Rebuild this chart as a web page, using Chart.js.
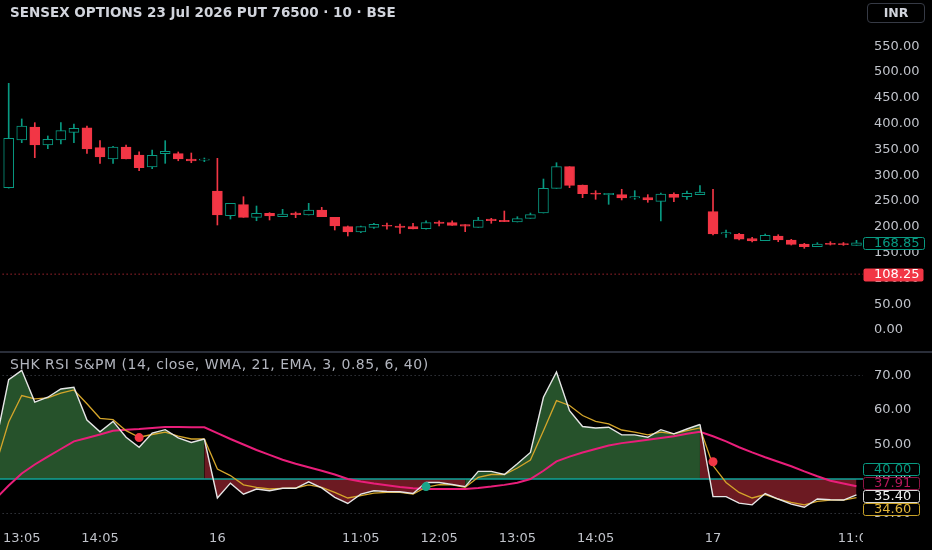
<!DOCTYPE html>
<html>
<head>
<meta charset="utf-8">
<title>SENSEX OPTIONS 23 Jul 2026 PUT 76500</title>
<script src="https://cdn.jsdelivr.net/npm/chart.js@4.4.1/dist/chart.umd.min.js"></script>
<style>
  html, body { margin: 0; padding: 0; background: #000; }
  #wrap { position: relative; width: 932px; height: 550px; overflow: hidden; background: #000;
          font-family: "DejaVu Sans", sans-serif; }
  #price { position: absolute; left: 0; top: 0; }
  #rsi { position: absolute; left: 0; top: 353px; }
  #sep { position: absolute; left: 0; top: 351px; width: 932px; height: 2px; background: #2a2e39; }
  .title { position: absolute; left: 10px; top: 4px; color: #d1d4dc; font-size: 13.5px; font-weight: 600;
           white-space: nowrap; }
  .inr { position: absolute; left: 867px; top: 3px; width: 58px; height: 20px; box-sizing: border-box;
         border: 1px solid #363a45; border-radius: 4px; color: #d1d4dc; font-size: 12.5px; font-weight: 600;
         text-align: center; line-height: 18px; }
  .rsiTitle { position: absolute; left: 10px; top: 356px; color: #b2b5be; font-size: 14px; letter-spacing: 0.5px;
              white-space: nowrap; }
</style>
</head>
<body>
<div id="wrap">
  <canvas id="price" width="932" height="352"></canvas>
  <div id="sep"></div>
  <canvas id="rsi" width="932" height="197"></canvas>
  <div class="title">SENSEX OPTIONS 23 Jul 2026 PUT 76500 · 10 · BSE</div>
  <div class="inr">INR</div>
  <div class="rsiTitle">SHK RSI S&amp;PM (14, close, WMA, 21, EMA, 3, 0.85, 6, 40)</div>
</div>
<script>
const TEAL = '#089981';
const RED = '#f23645';
const AXIS_TXT = '#c0c3ca';
const FONT = '"DejaVu Sans", sans-serif';

// bottom axis labels, placed on bar indices
const xTickBars = [1, 7, 16, 27, 33, 39, 45, 54, 65];
const xTickText = ['13:05', '14:05', '16', '11:05', '12:05', '13:05', '14:05', '17', '11:05'];

const priceTicks = [0, 50, 100, 150, 200, 250, 300, 350, 400, 450, 500, 550];
const rsiTicks = [30, 40, 50, 60, 70];

// 10 minute candles
const opens = [275.8, 368.2, 393.4, 358.5, 368.2, 383.1, 392.0, 353.4, 331.4, 354.7,
  339.1, 315.9, 341.7, 341.7, 331.4, 328.9, 269.4, 221.5, 242.9, 218.4,
  226.1, 219.6, 226.7, 222.9, 232.6, 218.4, 200.2, 189.9, 199.0, 202.9,
  201.6, 200.2, 196.4, 209.3, 208.0, 204.2, 199.0, 215.1, 212.5, 209.3,
  216.4, 226.7, 274.5, 316.5, 281.0, 265.5, 262.3, 262.3, 255.8, 256.4,
  249.4, 263.0, 258.4, 262.3, 229.3, 186.0, 185.4, 177.0, 173.2, 182.2,
  174.4, 166.7, 161.5, 168.0, 167.4, 164.1];
const highs = [478.0, 409.0, 401.8, 376.0, 401.8, 399.2, 395.3, 366.9, 355.9, 358.5,
  345.5, 348.8, 366.9, 345.0, 343.0, 333.3, 332.7, 245.5, 258.4, 240.3,
  227.4, 233.9, 228.7, 245.5, 237.7, 218.4, 201.6, 201.6, 206.8, 207.4,
  205.5, 206.8, 211.8, 211.8, 211.8, 204.2, 218.4, 216.4, 230.6, 219.6,
  226.7, 292.6, 324.2, 316.5, 281.0, 270.0, 264.9, 272.7, 270.0, 262.3,
  265.5, 265.8, 269.4, 279.7, 272.7, 193.8, 187.4, 179.6, 186.0, 184.7,
  175.7, 168.0, 169.2, 171.1, 169.5, 173.8];
const lows = [275.0, 363.0, 334.0, 351.4, 360.5, 363.0, 342.4, 323.0, 323.0, 331.4,
  308.7, 312.6, 323.0, 328.0, 324.2, 326.2, 203.5, 215.1, 218.4, 211.8,
  213.2, 219.6, 217.7, 222.9, 219.6, 193.8, 182.2, 188.6, 197.0, 195.2,
  187.4, 195.7, 195.2, 201.6, 202.9, 190.6, 199.0, 206.8, 210.0, 209.3,
  216.4, 226.7, 274.5, 275.8, 256.4, 253.3, 243.6, 252.0, 253.3, 247.5,
  211.2, 248.6, 253.3, 262.3, 184.1, 179.6, 174.4, 170.5, 173.2, 171.1,
  164.7, 158.3, 161.5, 164.7, 164.0, 164.1];
const closes = [371.5, 395.3, 358.5, 369.5, 386.3, 390.8, 350.8, 335.3, 354.7, 331.4,
  314.5, 338.5, 346.3, 331.4, 327.5, 331.4, 222.9, 245.5, 218.4, 226.1,
  220.9, 224.8, 223.5, 232.6, 219.6, 201.6, 189.9, 200.2, 204.8, 201.0,
  199.0, 195.7, 208.0, 206.8, 202.9, 201.0, 213.2, 211.8, 210.0, 215.7,
  223.5, 274.5, 316.5, 280.4, 264.2, 263.0, 264.9, 255.8, 258.4, 252.0,
  263.6, 257.1, 264.9, 267.4, 186.0, 188.6, 175.8, 172.5, 183.5, 174.4,
  166.1, 161.5, 166.7, 166.1, 165.5, 168.85];

const alertLevel = 108.25;

// indicator pane, series begin one bar before the first visible candle
const rsiFirstBar = -1;
const rsiLine = [50.4, 68.8, 71.5, 62.3, 63.7, 66.1, 66.6, 57.1, 53.7, 56.7, 52.1,
  49.2, 53.3, 54.3, 51.9, 50.6, 51.6, 34.5, 38.8, 35.6, 37.1,
  36.6, 37.3, 37.3, 39.2, 37.4, 34.7, 32.9, 35.6, 36.6, 36.4,
  36.3, 35.8, 39.0, 39.0, 38.4, 37.8, 42.2, 42.2, 41.3, 44.4,
  47.7, 63.7, 71.0, 59.8, 55.2, 54.8, 55.0, 52.8, 52.8, 52.1,
  54.3, 53.1, 54.5, 55.8, 34.9, 34.9, 33.0, 32.5, 35.8, 34.2,
  32.7, 31.8, 34.2, 34.0, 33.9, 35.4];
const rsiSignal = [44.0, 56.5, 64.2, 63.2, 63.5, 64.9, 65.8, 61.8, 57.6, 57.2, 54.0,
  52.1, 52.9, 53.6, 52.4, 51.6, 51.6, 42.9, 41.0, 38.3, 37.6,
  37.1, 37.3, 37.4, 38.3, 37.6, 36.1, 34.5, 35.2, 35.9, 36.1,
  36.1, 35.6, 37.6, 38.4, 38.3, 37.6, 40.5, 41.3, 41.3, 43.2,
  45.5, 54.0, 62.7, 61.3, 58.4, 56.7, 56.0, 54.2, 53.6, 52.8,
  53.6, 53.1, 54.0, 54.8, 43.9, 39.0, 36.1, 34.5, 35.5, 34.2,
  33.2, 32.5, 33.5, 33.9, 33.9, 34.6];
const rsiWma = [34.3, 38.1, 41.6, 44.2, 46.5, 48.7, 50.9, 51.9, 52.9, 54.0, 54.3,
  54.5, 54.8, 55.1, 55.1, 55.0, 55.0, 53.3, 51.6, 50.0, 48.4,
  47.0, 45.6, 44.4, 43.4, 42.4, 41.3, 40.0, 39.3, 38.7, 38.2,
  37.7, 37.3, 37.1, 37.1, 37.1, 37.1, 37.4, 37.8, 38.3, 38.9,
  40.0, 42.4, 45.1, 46.5, 47.7, 48.7, 49.7, 50.4, 50.9, 51.4,
  51.9, 52.4, 53.1, 53.7, 52.4, 50.9, 49.2, 47.7, 46.3, 45.0,
  43.7, 42.2, 40.8, 39.5, 38.7, 37.91];
const rsiMid = 40;
const rsiBands = [70, 30];

const sigBars = [10, 32, 54];
const sigValues = [52.0, 37.8, 45.0];
const sigKinds = ['sell', 'buy', 'sell'];

const bars = opens.map((_, i) => i);
const isUp = bars.map(i => closes[i] >= opens[i]);
const toPts = (arr) => arr.map((v, k) => ({ x: rsiFirstBar + k, y: v }));
const level = (v) => [{ x: -2, y: v }, { x: 68, y: v }];

const xRange = { type: 'linear', min: -0.667, max: 65.5, offset: false };

function drawTag(ctx, x, y, text, st, w, h) {
  ctx.save();
  ctx.beginPath();
  ctx.roundRect(x + 0.5, Math.round(y - h / 2) + 0.5, w, h, 2);
  ctx.fillStyle = st.fill;
  ctx.fill();
  if (st.stroke) {
    ctx.strokeStyle = st.stroke;
    ctx.lineWidth = 1;
    ctx.stroke();
  }
  ctx.fillStyle = st.text;
  ctx.font = '13px ' + FONT;
  ctx.textBaseline = 'middle';
  ctx.fillText(text, x + 11, Math.round(y) + 1);
  ctx.restore();
}

// push overlapping tags apart, keeping each cluster centred on its values
function spreadTags(items, h) {
  items.sort((a, b) => a.y - b.y);
  let groups = items.map(it => ({ items: [it], y: it.y }));
  let merged = true;
  while (merged) {
    merged = false;
    for (let k = 0; k < groups.length - 1; k++) {
      const a = groups[k], b = groups[k + 1];
      if (a.y + a.items.length * h / 2 > b.y - b.items.length * h / 2) {
        const its = a.items.concat(b.items);
        const mean = its.reduce((s, it) => s + it.y, 0) / its.length;
        groups.splice(k, 2, { items: its, y: mean });
        merged = true;
        break;
      }
    }
  }
  groups.forEach(g => g.items.forEach((it, j) => {
    it.ty = g.y + (j - (g.items.length - 1) / 2) * h;
  }));
  return items;
}

const priceTags = {
  id: 'priceTags',
  afterDraw(chart) {
    const ys = chart.scales.y, area = chart.chartArea, ctx = chart.ctx;
    const last = closes[closes.length - 1];
    drawTag(ctx, area.right, ys.getPixelForValue(alertLevel), alertLevel.toFixed(2),
      { fill: RED, text: '#ffffff' }, 60, 13);
    drawTag(ctx, area.right, ys.getPixelForValue(last), last.toFixed(2),
      { fill: '#000000', stroke: TEAL, text: TEAL }, 61, 12);
  }
};

const rsiTags = {
  id: 'rsiTags',
  // time labels stop at the price column, like the last "11:0" in the original
  beforeDraw(chart) {
    const a = chart.chartArea, ctx = chart.ctx;
    ctx.save();
    ctx.beginPath();
    ctx.rect(0, 0, chart.width, a.bottom);
    ctx.rect(0, a.bottom, a.right, chart.height - a.bottom);
    ctx.clip();
  },
  afterDraw(chart) {
    const ys = chart.scales.y, area = chart.chartArea, ctx = chart.ctx;
    ctx.restore();
    const n = rsiLine.length - 1;
    const items = [
      { v: rsiMid, st: { fill: '#000', stroke: TEAL, text: TEAL } },
      { v: rsiWma[n], st: { fill: '#000', stroke: '#8c1444', text: '#b3185a' } },
      { v: rsiLine[n], st: { fill: '#000', stroke: '#d8d8d8', text: '#f0f0f0' } },
      { v: rsiSignal[n], st: { fill: '#000', stroke: '#c9a227', text: '#e0b43a' } }
    ].map(it => ({ ...it, y: ys.getPixelForValue(it.v) }));
    spreadTags(items, 13.3).forEach(it => {
      drawTag(ctx, area.right, it.ty, it.v.toFixed(2), it.st, 56, 12);
    });
  }
};

// fixed axis width, and no extra room reserved for overhanging tick labels
const yAxisCommon = {
  position: 'right',
  grid: { display: false, drawTicks: false },
  border: { display: false },
  afterFit(scale) {
    scale.width = 69;
    scale.paddingTop = 0;
    scale.paddingBottom = 0;
  }
};

new Chart(document.getElementById('price'), {
  type: 'bar',
  data: {
    datasets: [{
      label: 'body',
      data: bars.map(i => ({ x: i, y: [opens[i], closes[i]] })),
      backgroundColor: bars.map(i => isUp[i] ? '#000000' : RED),
      borderColor: bars.map(i => isUp[i] ? TEAL : RED),
      borderWidth: 1,
      borderSkipped: false,
      barThickness: 10,
      grouped: false,
      order: 0
    }, {
      label: 'wick',
      data: bars.map(i => ({ x: i, y: [lows[i], highs[i]] })),
      backgroundColor: bars.map(i => isUp[i] ? TEAL : RED),
      borderWidth: 0,
      barThickness: 1,
      grouped: false,
      order: 1
    }, {
      type: 'line',
      label: 'alert',
      data: level(alertLevel),
      borderColor: RED,
      borderWidth: 1,
      borderDash: [1, 3],
      pointRadius: 0,
      order: 2
    }]
  },
  options: {
    responsive: false,
    animation: false,
    events: [],
    layout: { padding: 0, autoPadding: false },
    plugins: { legend: { display: false }, tooltip: { enabled: false } },
    scales: {
      x: { ...xRange, display: false },
      y: {
        ...yAxisCommon,
        min: -42.6,
        max: 639.5,
        afterBuildTicks(axis) { axis.ticks = priceTicks.map(v => ({ value: v })); },
        ticks: {
          padding: 11,
          color: AXIS_TXT,
          font: { family: FONT, size: 13 },
          callback: v => Number(v).toFixed(2)
        }
      }
    }
  },
  plugins: [priceTags]
});

new Chart(document.getElementById('rsi'), {
  type: 'line',
  data: {
    datasets: [{
      label: 'signals',
      data: sigBars.map((b, k) => ({ x: b, y: sigValues[k] })),
      showLine: false,
      pointRadius: 4.5,
      pointBorderWidth: 0,
      pointBackgroundColor: sigKinds.map(k => k === 'buy' ? '#1aa58a' : '#f23645'),
      order: 0
    }, {
      label: 'RSI',
      data: toPts(rsiLine),
      borderColor: '#e6e6e6',
      borderWidth: 1.4,
      pointRadius: 0,
      fill: { value: rsiMid },
      backgroundColor: '#26522b',
      segment: {
        backgroundColor: c => c.p1.parsed.y >= rsiMid ? '#26522b' : '#6c1a22'
      },
      order: 1
    }, {
      label: 'signal',
      data: toPts(rsiSignal),
      borderColor: '#d4a52a',
      borderWidth: 1.3,
      pointRadius: 0,
      order: 2
    }, {
      label: 'WMA',
      data: toPts(rsiWma),
      borderColor: '#e91e7a',
      borderWidth: 2,
      pointRadius: 0,
      order: 3
    }, {
      label: 'mid',
      data: level(rsiMid),
      borderColor: '#11a39a',
      borderWidth: 1.5,
      pointRadius: 0,
      order: 4
    }, ...rsiBands.map(b => ({
      label: 'band',
      data: level(b),
      borderColor: '#4a4e58',
      borderWidth: 1,
      borderDash: [1, 3],
      pointRadius: 0,
      order: 5
    }))]
  },
  options: {
    responsive: false,
    animation: false,
    events: [],
    layout: { padding: 0, autoPadding: false },
    plugins: {
      legend: { display: false },
      tooltip: { enabled: false },
      filler: { drawTime: 'beforeDatasetsDraw' }
    },
    scales: {
      x: {
        ...xRange,
        grid: { display: false, drawTicks: false },
        border: { display: false },
        afterFit(scale) {
          scale.height = 27;
          scale.paddingLeft = 0;
          scale.paddingRight = 0;
        },
        afterBuildTicks(axis) { axis.ticks = xTickBars.map(v => ({ value: v })); },
        ticks: {
          autoSkip: false,
          maxRotation: 0,
          padding: 8,
          color: AXIS_TXT,
          font: { family: FONT, size: 13 },
          callback: v => xTickText[xTickBars.indexOf(v)]
        }
      },
      y: {
        ...yAxisCommon,
        min: 27.25,
        max: 76.52,
        afterBuildTicks(axis) { axis.ticks = rsiTicks.map(v => ({ value: v })); },
        ticks: {
          padding: 11,
          color: AXIS_TXT,
          font: { family: FONT, size: 13 },
          callback: v => Number(v).toFixed(2)
        }
      }
    }
  },
  plugins: [rsiTags]
});
</script>
</body>
</html>
